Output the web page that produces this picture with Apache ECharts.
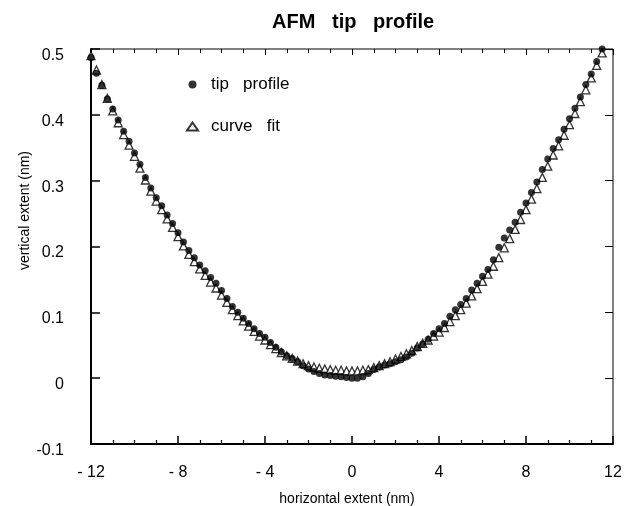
<!DOCTYPE html>
<html>
<head>
<meta charset="utf-8">
<script src="https://cdn.jsdelivr.net/npm/echarts@6/dist/echarts.min.js"></script>
<style>html,body{margin:0;padding:0;background:#fff}#c{width:632px;height:506px}</style>
</head>
<body>
<div id="c"></div>
<script>
var xValues = [-12,-11.75,-11.5,-11.25,-11,-10.75,-10.5,-10.25,-10,-9.75,-9.5,-9.25,-9,-8.75,-8.5,-8.25,-8,-7.75,-7.5,-7.25,-7,-6.75,-6.5,-6.25,-6,-5.75,-5.5,-5.25,-5,-4.75,-4.5,-4.25,-4,-3.75,-3.5,-3.25,-3,-2.75,-2.5,-2.25,-2,-1.75,-1.5,-1.25,-1,-0.75,-0.5,-0.25,0,0.25,0.5,0.75,1,1.25,1.5,1.75,2,2.25,2.5,2.75,3,3.25,3.5,3.75,4,4.25,4.5,4.75,5,5.25,5.5,5.75,6,6.25,6.5,6.75,7,7.25,7.5,7.75,8,8.25,8.5,8.75,9,9.25,9.5,9.75,10,10.25,10.5,10.75,11,11.25,11.5];
var tipProfile = [0.487,0.463,0.445,0.424,0.409,0.392,0.375,0.360,0.342,0.325,0.305,0.289,0.274,0.262,0.248,0.235,0.221,0.207,0.194,0.183,0.172,0.163,0.153,0.144,0.133,0.121,0.109,0.100,0.091,0.083,0.075,0.068,0.062,0.054,0.047,0.040,0.034,0.030,0.025,0.019,0.014,0.010,0.007,0.005,0.004,0.003,0.002,0.001,0.000,0.000,0.002,0.007,0.013,0.017,0.020,0.022,0.025,0.028,0.032,0.038,0.046,0.052,0.059,0.068,0.075,0.083,0.094,0.104,0.112,0.121,0.134,0.144,0.155,0.165,0.180,0.199,0.213,0.225,0.237,0.252,0.266,0.282,0.298,0.317,0.333,0.349,0.362,0.378,0.394,0.410,0.427,0.446,0.462,0.481,0.500];
var curveFit = [0.490,0.468,0.446,0.425,0.406,0.388,0.370,0.354,0.337,0.319,0.301,0.284,0.269,0.256,0.242,0.229,0.215,0.201,0.188,0.177,0.166,0.156,0.146,0.137,0.126,0.115,0.104,0.095,0.087,0.079,0.071,0.064,0.058,0.051,0.045,0.039,0.034,0.030,0.026,0.022,0.019,0.017,0.015,0.014,0.013,0.012,0.012,0.011,0.011,0.011,0.012,0.013,0.016,0.019,0.022,0.025,0.029,0.033,0.037,0.042,0.048,0.053,0.058,0.064,0.070,0.077,0.086,0.095,0.104,0.114,0.125,0.136,0.147,0.158,0.170,0.183,0.198,0.212,0.226,0.241,0.256,0.272,0.288,0.305,0.322,0.339,0.353,0.369,0.385,0.402,0.420,0.438,0.456,0.475,0.494];
var xTicks = [-12,-8,-4,0,4,8,12];
var yTicks = [-0.1,0,0.1,0.2,0.3,0.4,0.5];

function pairs(xs, ys){ return xs.map(function(x,i){ return [x, ys[i]]; }); }
var FONT = 'Liberation Sans';
var chart = echarts.init(document.getElementById('c'));
chart.setOption({
  backgroundColor: '#ffffff',
  animation: false,
  title: {
    text: 'AFM   tip   profile', left: 272, top: 12, padding: 0,
    textStyle: {fontFamily: FONT, fontSize: 20, fontWeight: 'bold', color: '#000'}
  },
  legend: {
    orient: 'vertical', left: 186, top: 76, padding: 0, itemGap: 25, itemWidth: 11, itemHeight: 8,
    data: [{name: 'tip   profile', icon: 'circle'}, {name: 'curve   fit', icon: 'triangle'}],
    textStyle: {fontFamily: FONT, fontSize: 17, color: '#000', padding: [0,0,0,8]}
  },
  grid: {left: 91, right: 19, top: 49, bottom: 62, show: true, borderColor: '#000', borderWidth: 1, outerBoundsMode: 'none'},
  xAxis: [{
    type: 'value', min: xTicks[0], max: xTicks[xTicks.length-1], interval: 4,
    name: 'horizontal extent (nm)', nameLocation: 'middle', nameGap: 48, nameMoveOverlap: false,
    nameTextStyle: {fontFamily: FONT, fontSize: 14, color: '#000', padding: [0,10,0,0]},
    axisLine: {show: true, onZero: false, lineStyle: {color: '#000', width: 2}},
    axisTick: {show: true, inside: true, length: 8, lineStyle: {color: '#000', width: 1.5}},
    minorTick: {show: true, splitNumber: 4, length: 4, lineStyle: {color: '#000', width: 1.2}},
    splitLine: {show: false},
    axisLabel: {margin: 21, fontFamily: FONT, fontSize: 16, color: '#000',
      formatter: function(v){ return v < 0 ? '- ' + Math.abs(v) : String(v); }}
  }, {
    type: 'value', position: 'top', min: xTicks[0], max: xTicks[xTicks.length-1], interval: 4,
    axisLine: {show: false, onZero: false},
    axisTick: {show: true, inside: true, length: 6, lineStyle: {color: '#000', width: 1}},
    minorTick: {show: true, splitNumber: 4, length: 4, lineStyle: {color: '#000', width: 1}},
    splitLine: {show: false}, axisLabel: {show: false}
  }],
  yAxis: [{
    type: 'value', min: yTicks[0], max: yTicks[yTicks.length-1], interval: 0.1,
    name: 'vertical extent (nm)', nameLocation: 'middle', nameGap: 59, nameRotate: 90, nameMoveOverlap: false,
    nameTextStyle: {fontFamily: FONT, fontSize: 14, color: '#000', padding: [0,0,0,72]},
    axisLine: {show: true, onZero: false, lineStyle: {color: '#000', width: 2}},
    axisTick: {show: true, inside: true, length: 9, lineStyle: {color: '#000', width: 1.5}},
    splitLine: {show: false},
    axisLabel: {margin: 27, fontFamily: FONT, fontSize: 16, color: '#000', verticalAlign: 'top', lineHeight: 13,
      formatter: function(v){ var r = Math.round(v*10)/10; if (r === 0) return '0'; return r < 0 ? '-0.' + Math.round(Math.abs(r)*10) : r.toFixed(1); }}
  }, {
    type: 'value', position: 'right', min: yTicks[0], max: yTicks[yTicks.length-1], interval: 0.1,
    axisLine: {show: false, onZero: false},
    axisTick: {show: true, inside: true, length: 8, lineStyle: {color: '#000', width: 1}},
    splitLine: {show: false}, axisLabel: {show: false}
  }],
  series: [{
    name: 'curve   fit', type: 'scatter', symbol: 'triangle', symbolSize: 8,
    itemStyle: {color: '#fff', borderColor: '#000', borderWidth: 1.3},
    data: pairs(xValues, curveFit)
  }, {
    name: 'tip   profile', type: 'scatter', symbol: 'circle', symbolSize: 7,
    itemStyle: {color: '#000'},
    data: pairs(xValues, tipProfile)
  }]
});
</script>
</body>
</html>
